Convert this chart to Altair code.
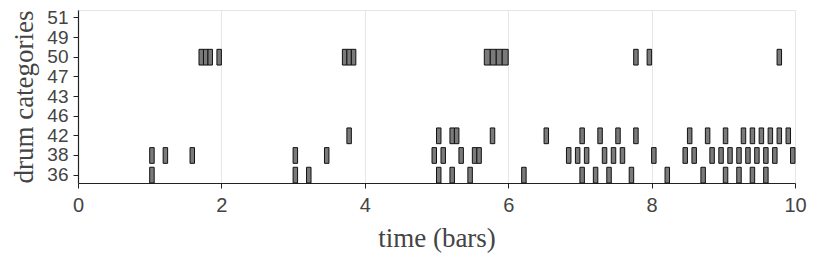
import altair as alt
import pandas as pd

# y categories, top to bottom
rows_order = ["51", "49", "50", "47", "43", "46", "42", "38", "36"]

# onset times (bars) per drum
t36 = [1.0, 3.0, 3.1875, 5.0, 5.1875, 5.4375, 6.1875, 7.0, 7.1875, 7.375,
       7.6875, 8.1875, 8.6875, 9.0, 9.1875, 9.375, 9.5625]
t38 = [1.0, 1.1875, 1.5625, 3.0, 3.4375, 4.9375, 5.0625, 5.3125, 5.5, 5.5625,
       6.8125, 6.9375, 7.0625, 7.3125, 7.4375, 7.5625, 8.0, 8.4375, 8.5625,
       8.8125, 8.9375, 9.0625, 9.1875, 9.3125, 9.4375, 9.5625, 9.6875, 9.9375]
t42 = [3.75, 5.0, 5.1875, 5.25, 5.75, 6.5, 7.0, 7.25, 7.5, 7.75, 8.5, 8.75,
       9.0, 9.25, 9.375, 9.5, 9.625, 9.75, 9.875]
t50 = [1.6875, 1.75, 1.8125, 1.9375, 3.6875, 3.75, 3.8125,
       5.6667, 5.75, 5.8333, 5.9167, 7.75, 7.9375, 9.75]
d50 = [1/16, 1/16, 1/16, 1/16, 1/16, 1/16, 1/16,
       1/12, 1/12, 1/12, 1/12, 1/16, 1/16, 1/16]

records = []
for drum, times in [("36", t36), ("38", t38), ("42", t42)]:
    for t in times:
        records.append({"drum": drum, "start": t, "end": t + 1/16})
for t, d in zip(t50, d50):
    records.append({"drum": "50", "start": t, "end": t + d})
df = pd.DataFrame(records)

chart = alt.Chart(df).mark_rect(
    fill="#7a7a7a", stroke="#111111", strokeWidth=1
).encode(
    x=alt.X("start:Q",
            scale=alt.Scale(domain=[0, 10], nice=False, zero=False),
            axis=alt.Axis(values=[0, 2, 4, 6, 8, 10], title="time (bars)",
                          grid=True, format="d", labelFlush=False,
                          labelFontSize=20)),
    x2="end:Q",
    y=alt.Y("drum:N", sort=rows_order,
            scale=alt.Scale(domain=rows_order, paddingInner=0.2, paddingOuter=0),
            axis=alt.Axis(title="drum categories", grid=False,
                          labelFontSize=19)),
).properties(
    width=717, height=173,
    autosize=alt.AutoSizeParams(type="none"),
    padding={"left": 70, "top": 2, "right": 27, "bottom": 78},
).configure_view(
    stroke="#e6e6e6"
).configure_axis(
    domainColor="#222222", domainWidth=1.2,
    tickColor="#222222", tickSize=5,
    labelFont="Liberation Sans", labelColor="#444444",
    titleFont="Liberation Serif", titleFontSize=27, titleFontWeight="normal",
    titleColor="#444444", gridColor="#e6e6e6",
).configure_axisX(
    labelPadding=7, titlePadding=10,
).configure_axisY(
    labelPadding=5, titlePadding=8,
)

chart.save("out.html", embed_options={"renderer": "svg", "actions": False})
